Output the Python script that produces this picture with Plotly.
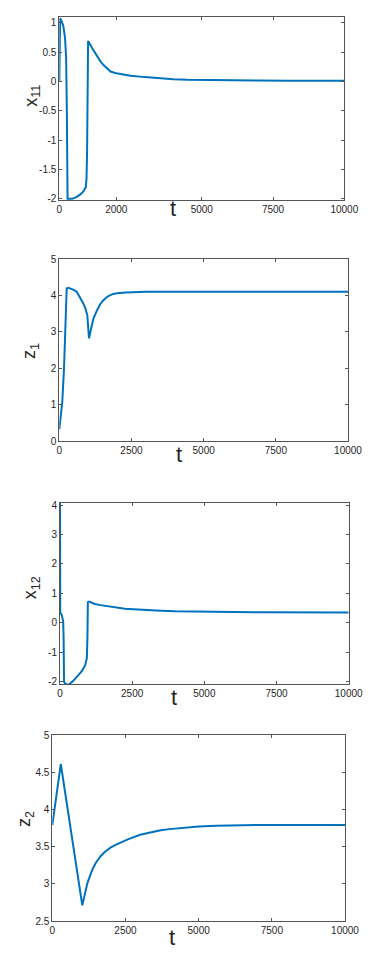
import plotly.graph_objects as go
from plotly.subplots import make_subplots

# ---- data ----
t_x11 = [0, 10, 30, 80, 140, 200, 240, 265, 280, 290, 450, 600, 750, 850, 930, 955,
         975, 990, 1010, 1150, 1300, 1450, 1550, 1700, 1800, 1900, 2000, 2250, 2500, 3000,
         3500, 4000, 4500, 5000, 6000, 7000, 8000, 10000]
x11 = [0.0, 1.05, 1.08, 1.03, 0.95, 0.75, 0.4, -0.5, -1.5, -2.0, -2.0, -1.97, -1.92, -1.87, -1.80, -1.65,
       -1.2, -0.3, 0.69, 0.57, 0.45, 0.34, 0.28, 0.21, 0.17, 0.155, 0.14, 0.12, 0.10, 0.075,
       0.055, 0.04, 0.03, 0.025, 0.02, 0.017, 0.015, 0.012]

t_z1 = [0, 104, 163, 256, 313, 480, 603, 715, 831, 900, 970, 1029, 1100, 1176, 1300, 1410,
        1520, 1640, 1750, 1870, 2000, 2300, 3000, 10000]
z1 = [0.32, 1.08, 2.0, 4.19, 4.21, 4.16, 4.10, 3.95, 3.78, 3.65, 3.46, 2.82, 3.10, 3.35, 3.58, 3.75,
      3.86, 3.95, 4.00, 4.04, 4.06, 4.08, 4.10, 4.10]

t_x12 = [0, 8, 60, 110, 125, 140, 180, 290, 450, 600, 750, 870, 930, 950, 965, 1010,
         1100, 1200, 1400, 1700, 1960, 2250, 2540, 3000, 3500, 4000, 4500, 5000, 6000, 7000, 10000]
x12 = [4.08, 0.35, 0.27, 0.05, -0.5, -2.0, -2.07, -2.11, -1.98, -1.82, -1.65, -1.45, -1.2, -0.5, 0.7, 0.72,
       0.68, 0.64, 0.60, 0.55, 0.51, 0.48, 0.46, 0.43, 0.41, 0.39, 0.38, 0.37, 0.365, 0.36, 0.35]

t_z2 = [0, 290, 1025, 1100, 1200, 1300, 1400, 1500, 1650, 1800, 2000, 2200, 2400, 2600, 3000,
        3300, 3700, 4000, 4500, 5000, 5600, 6500, 7000, 10000]
z2 = [3.79, 4.61, 2.71, 2.86, 3.01, 3.12, 3.22, 3.29, 3.37, 3.43, 3.49, 3.53, 3.57, 3.60, 3.66,
      3.69, 3.72, 3.735, 3.755, 3.77, 3.78, 3.785, 3.79, 3.79]

xticks_1 = [0, 2000, 5000, 7500, 10000]
xticks = [0, 2500, 5000, 7500, 10000]
yticks_1 = [-2, -1.5, -1, -0.5, 0, 0.5, 1]
yticks_2 = [0, 1, 2, 3, 4, 5]
yticks_3 = [-2, -1, 0, 1, 2, 3, 4]
yticks_4 = [2.5, 3, 3.5, 4, 4.5, 5]

# page body keeps its 8px margin, so the figure is shrunk to fit the window
PAD = 8
W, H = 387 - 2 * PAD, 968 - 2 * PAD
blue = '#0072BD'
dark = '#262626'


def fx(p):
    return (p - PAD) / W


def fy(p):
    return 1 - (p - PAD) / H


fig = make_subplots(rows=4, cols=1)

series = [(t_x11, x11), (t_z1, z1), (t_x12, x12), (t_z2, z2)]
for i, (tt, yy) in enumerate(series):
    fig.add_trace(go.Scatter(x=tt, y=yy, mode='lines', line=dict(color=blue, width=2),
                             showlegend=False), row=i + 1, col=1)

# panel boxes in window pixels: left, right, top, bottom
boxes = [(59.3, 344.3, 17, 200), (59.3, 348, 259, 441), (60, 348.7, 502.7, 684), (52.3, 345, 735, 921)]
yranges = [[-2.02, 1.1], [0, 5], [-2.08, 4.08], [2.5, 5]]
ytick_sets = [yticks_1, yticks_2, yticks_3, yticks_4]
xtick_sets = [xticks_1, xticks, xticks, xticks]

axfont = dict(family='Liberation Sans, Arial, sans-serif', size=10, color=dark)
for i, (l, r, t, b) in enumerate(boxes):
    n = '' if i == 0 else str(i + 1)
    common = dict(showline=True, linecolor='#555', linewidth=1, mirror='ticks', ticks='inside',
                  ticklen=3, tickcolor='#555', showgrid=False, zeroline=False, tickfont=axfont,
                  automargin=False)
    fig.layout['xaxis' + n].update(domain=[fx(l), fx(r)], range=[0, 10000],
                                   tickmode='array', tickvals=xtick_sets[i],
                                   ticktext=['%g' % v for v in xtick_sets[i]], **common)
    fig.layout['yaxis' + n].update(domain=[fy(b), fy(t)], range=yranges[i],
                                   tickmode='array', tickvals=ytick_sets[i],
                                   ticktext=['%g' % v for v in ytick_sets[i]], **common)

# axis labels as annotations
ylabels = ['x<sub>11</sub>', 'z<sub>1</sub>', 'x<sub>12</sub>', 'z<sub>2</sub>']
ylab_pos = [(31.7, 96), (30, 351), (31.7, 587.5), (25, 819)]
t_pos = [(173, 208), (179, 454), (174.3, 697), (171.7, 937)]
for txt, (px, py) in zip(ylabels, ylab_pos):
    fig.add_annotation(text=txt, x=fx(px), y=fy(py), xref='paper', yref='paper',
                       textangle=-90, showarrow=False, xanchor='center', yanchor='middle',
                       font=dict(family='Liberation Sans, Arial, sans-serif', size=18, color=dark))
for (px, py) in t_pos:
    fig.add_annotation(text='t', x=fx(px), y=fy(py), xref='paper', yref='paper',
                       showarrow=False, xanchor='center', yanchor='middle',
                       font=dict(family='Liberation Sans, Arial, sans-serif', size=22, color=dark))

fig.update_layout(template='none', width=W, height=H, margin=dict(l=0, r=0, t=0, b=0),
                  paper_bgcolor='white', plot_bgcolor='white')

fig.write_html('out.html')
